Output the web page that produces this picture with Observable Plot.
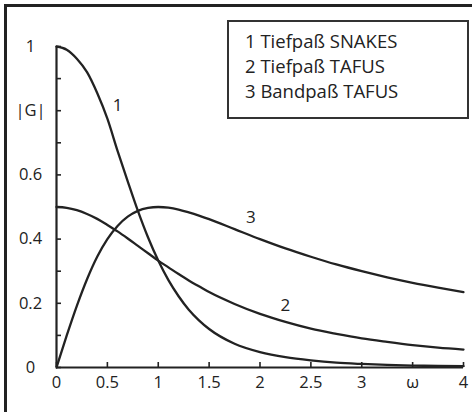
<!DOCTYPE html>
<html>
<head>
<meta charset="utf-8">
<script src="https://cdn.jsdelivr.net/npm/d3@7"></script>
<script src="https://cdn.jsdelivr.net/npm/@observablehq/plot@0.6"></script>
<style>
  html, body { margin: 0; padding: 0; background: #fff; }
  #wrap { position: relative; width: 472px; height: 412px; overflow: hidden; font-family: "Open Sans", sans-serif; color: #222; }
  #frame { position: absolute; left: 4px; top: 4px; width: 480px; height: 420px; border-top: 3px solid #222; border-left: 3px solid #222; }
  #chart { position: absolute; left: 0; top: 0; }
  #legend { position: absolute; left: 227px; top: 20px; width: 222px; height: 89px; border: 2px solid #333; padding: 6px 0 0 16px; box-sizing: content-box; font-size: 18.5px; line-height: 25px; }
</style>
</head>
<body>
<div id="wrap">
  <div id="frame"></div>
  <div id="chart"></div>
  <div id="legend"></div>
</div>
<script>
// ω values where the curves were read
const omega = [0,0.1,0.2,0.3,0.4,0.5,0.6,0.7,0.8,0.9,1.0,1.1,1.2,1.3,1.4,1.5,1.75,2,2.25,2.5,2.75,3,3.25,3.5,3.75,4];
// 1 Tiefpaß SNAKES
const g1 = [1,0.99,0.962,0.92,0.855,0.775,0.675,0.58,0.488,0.405,0.333,0.272,0.222,0.18,0.147,0.12,0.074,0.048,0.032,0.022,0.015,0.011,0.008,0.006,0.005,0.004];
// 2 Tiefpaß TAFUS
const g2 = [0.5,0.4975,0.49,0.478,0.463,0.444,0.424,0.402,0.379,0.356,0.333,0.312,0.291,0.271,0.253,0.235,0.198,0.167,0.142,0.121,0.105,0.091,0.08,0.07,0.062,0.056];
// 3 Bandpaß TAFUS
const g3 = [0,0.099,0.192,0.275,0.345,0.4,0.441,0.47,0.488,0.497,0.5,0.498,0.492,0.483,0.473,0.462,0.431,0.4,0.371,0.345,0.321,0.3,0.281,0.264,0.249,0.235];

const seriesIds = ["1", "2", "3"];
const legendItems = ["1 Tiefpaß SNAKES", "2 Tiefpaß TAFUS", "3 Bandpaß TAFUS"];

// curve number labels (data coordinates)
const labelText = ["1", "3", "2"];
const labelX = [0.6, 1.91, 2.25];
const labelY = [0.816, 0.467, 0.193];

// axes
const xTickValues = [0,0.5,1,1.5,2,2.5,3,3.5,4];
const xTickLabels = ["0","0.5","1","1.5","2","2.5","3","ω","4"];
const yMinorTicks = [0,0.1,0.2,0.3,0.4,0.5,0.6,0.7,0.8,0.9,1];
const yTickValues = [0,0.2,0.4,0.6,0.8,1];
const yTickLabels = ["0","0.2","0.4","0.6","|G|","1"];

const allSeries = [g1, g2, g3];
const rows = [];
allSeries.forEach((vals, s) => omega.forEach((w, i) => rows.push({series: seriesIds[s], w, g: vals[i]})));
const labels = labelText.map((t, i) => ({t, x: labelX[i], y: labelY[i]}));
const xLab = new Map(xTickValues.map((v, i) => [v, xTickLabels[i]]));
const yLab = new Map(yTickValues.map((v, i) => [v, yTickLabels[i]]));

const W = 472, H = 412, ML = 56, MR = 9, MT = 46, MB = 45, TICK = 5;
const ink = "#222";
const chart = Plot.plot({
  width: W, height: H,
  marginLeft: ML, marginRight: MR, marginTop: MT, marginBottom: MB,
  x: {domain: [0, 4]},
  y: {domain: [0, 1]},
  style: {fontFamily: "'Open Sans', sans-serif", fontSize: "16px", color: ink, background: "transparent", overflow: "visible"},
  marks: [
    // inward ticks
    Plot.tickX(xTickValues, {x: d => d, insetTop: (H - MT - MB) - TICK, stroke: ink, strokeWidth: 1.6}),
    Plot.tickY(yMinorTicks, {y: d => d, insetRight: (W - ML - MR) - TICK, stroke: ink, strokeWidth: 1.6}),
    Plot.axisX({ticks: xTickValues, tickSize: 0, tickPadding: 9, tickFormat: d => xLab.get(d), fontSize: 16.5, fill: ink, label: null}),
    Plot.axisY({ticks: yTickValues, tickSize: 0, tickPadding: 26, textAnchor: "middle", tickFormat: d => yLab.get(d), fontSize: 16.5, fill: ink, label: null}),
    Plot.ruleY([0], {stroke: ink, strokeWidth: 2.2}),
    Plot.ruleX([0], {stroke: ink, strokeWidth: 2.2}),
    Plot.line(rows, {x: "w", y: "g", z: "series", curve: "monotone-x", stroke: ink, strokeWidth: 2.3}),
    Plot.text(labels, {x: "x", y: "y", text: "t", fontSize: 17, fill: ink})
  ]
});
document.getElementById("chart").appendChild(chart);
document.getElementById("legend").innerHTML = legendItems.map(t => `<div>${t}</div>`).join("");
</script>
</body>
</html>
